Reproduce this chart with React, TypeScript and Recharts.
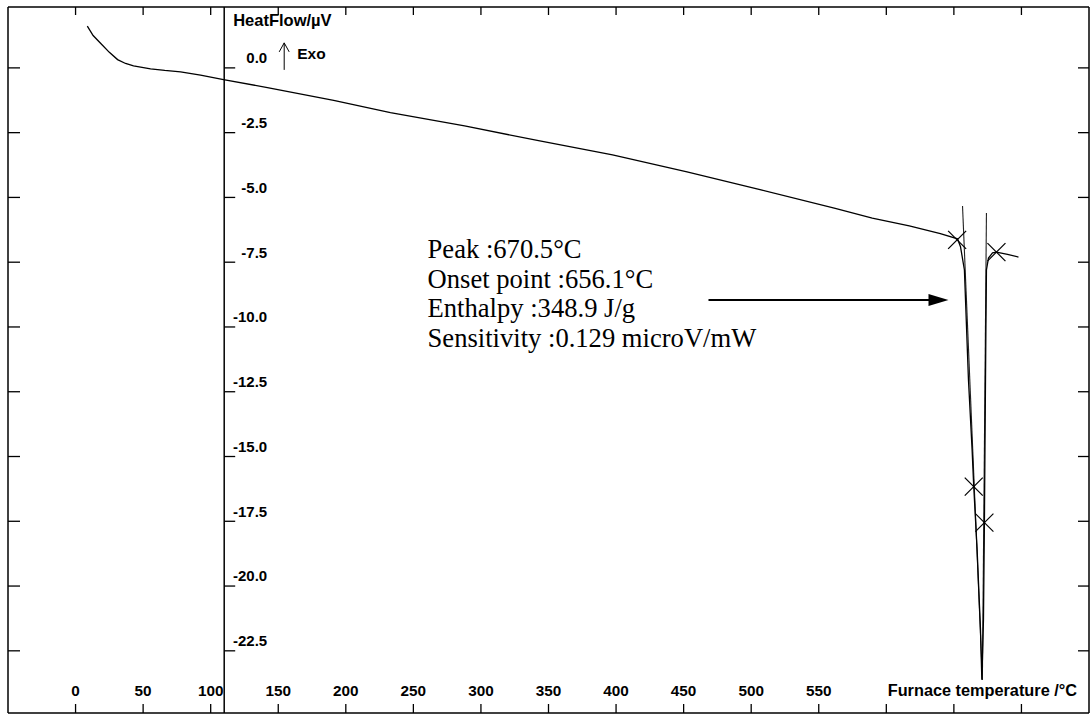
import React from 'react';
import { ComposedChart, Line, XAxis, YAxis, Scatter, ReferenceLine, ReferenceDot } from 'recharts';

// ---- data ----
const temperature = [
  8.7, 13, 18.5, 25, 31.1, 37, 42.9, 55.5, 66, 77.7, 92.5, 109.5, 142, 191, 233, 287.9, 342.6,
  397.4, 452.5, 507.3, 562.2, 589.6, 617, 640, 652.7, 654.9, 657.8, 660.8, 663.5, 664.7, 667.2,
  669.7, 670.7, 671.9, 672.6, 673.0, 673.7, 674.1, 675.6, 678.6, 681.5, 689.7, 697.8,
];
const heatFlow = [
  1.61, 1.25, 0.95, 0.6, 0.32, 0.17, 0.08, -0.04, -0.1, -0.15, -0.28, -0.45, -0.76, -1.25, -1.73,
  -2.24, -2.81, -3.36, -4.01, -4.71, -5.42, -5.8, -6.1, -6.4, -6.6, -6.9, -7.8, -12.05, -14.75,
  -16.16, -18.6, -21.69, -23.62, -21.3, -17.55, -14.75, -10.1, -7.8, -7.34, -7.14, -7.11, -7.2, -7.3,
];
const leftTangentT = [656.4, 671.1];
const leftTangentV = [-5.33, -23.62];
const rightTangentT = [674.1, 671.1];
const rightTangentV = [-5.6, -23.62];
const markerT = [652.4, 681.5, 664.7, 672.6];
const markerV = [-6.64, -7.11, -16.16, -17.55];

const xTicks = [0, 50, 100, 150, 200, 250, 300, 350, 400, 450, 500, 550, 600, 650, 700];
const xTickLabels = ['0', '50', '100', '150', '200', '250', '300', '350', '400', '450', '500', '550', '', '', ''];
const yTicks = [0, -2.5, -5, -7.5, -10, -12.5, -15, -17.5, -20, -22.5];
const yTickLabels = ['0.0', '-2.5', '-5.0', '-7.5', '-10.0', '-12.5', '-15.0', '-17.5', '-20.0', '-22.5'];
const yAxisPosition = 110;
const xDomain = [-50, 750];
const yDomain = [-24.9, 2.35];
const xAxisTitle = 'Furnace temperature /°C';
const yAxisTitle = 'HeatFlow/µV';
const exoLabel = 'Exo';
const annotationLines = [
  'Peak :670.5°C',
  'Onset point :656.1°C',
  'Enthalpy :348.9 J/g',
  'Sensitivity :0.129 microV/mW',
];
const annotationAnchor = { t: 260.5, v: -7.34 };
const arrowFrom = { t: 468.4, v: -8.96 };
const arrowTo = { t: 646, v: -8.96 };

// ---- derived tables ----
const curve = temperature.map((t, i) => ({ t, v: heatFlow[i] }));
const leftTangent = leftTangentT.map((t, i) => ({ t, v: leftTangentV[i] }));
const rightTangent = rightTangentT.map((t, i) => ({ t, v: rightTangentV[i] }));
const markers = markerT.map((t, i) => ({ t, v: markerV[i] }));
const innerTicks = yTicks.map((v, i) => ({ t: yAxisPosition, v, label: yTickLabels[i] }));

const FONT = '"Liberation Sans", Arial, sans-serif';
const SERIF = '"Liberation Serif", "Times New Roman", serif';

const BottomTick = (p: any) => {
  const idx = xTicks.indexOf(p.payload.value);
  const label = idx >= 0 ? xTickLabels[idx] : '';
  return (
    <g>
      <line x1={p.x} x2={p.x} y1={p.y} y2={p.y - 9} stroke="#000" strokeWidth={1.3} />
      {label ? (
        <text x={p.x} y={p.y - 17.5} textAnchor="middle" fontFamily={FONT} fontWeight="bold" fontSize={15.3} fill="#000">
          {label}
        </text>
      ) : null}
    </g>
  );
};
const TopTick = (p: any) => (
  <line x1={p.x} x2={p.x} y1={p.y} y2={p.y + 8} stroke="#000" strokeWidth={1.3} />
);
const LeftTick = (p: any) => (
  <line x1={p.x} x2={p.x + 12} y1={p.y} y2={p.y} stroke="#000" strokeWidth={1.3} />
);
const RightTick = (p: any) => (
  <line x1={p.x} x2={p.x - 11} y1={p.y} y2={p.y} stroke="#000" strokeWidth={1.3} />
);

const InnerTick = (p: any) => (
  <g>
    <line x1={p.cx} x2={p.cx + 11} y1={p.cy} y2={p.cy} stroke="#000" strokeWidth={1.3} />
    <text x={p.cx + 43} y={p.cy - 4.6} textAnchor="end" fontFamily={FONT} fontWeight="bold" fontSize={15} fill="#000">
      {p.payload.label}
    </text>
  </g>
);

const Cross = (p: any) => (
  <g stroke="#000" strokeWidth={1.2}>
    <line x1={p.cx - 9} y1={p.cy - 9} x2={p.cx + 9} y2={p.cy + 9} />
    <line x1={p.cx - 9} y1={p.cy + 9} x2={p.cx + 9} y2={p.cy - 9} />
  </g>
);

const AxisHeader = (p: any) => (
  <g>
    <text x={p.cx + 9} y={p.cy - 41.5} fontFamily={FONT} fontWeight="bold" fontSize={16.5} fill="#000">
      {yAxisTitle}
    </text>
    <g stroke="#000" strokeWidth={1} fill="none">
      <line x1={p.cx + 60} x2={p.cx + 60} y1={p.cy + 2} y2={p.cy - 25} />
      <polyline points={`${p.cx + 55},${p.cy - 16} ${p.cx + 60},${p.cy - 25} ${p.cx + 65},${p.cy - 16}`} />
    </g>
    <text x={p.cx + 73} y={p.cy - 9} fontFamily={FONT} fontWeight="bold" fontSize={15.5} fill="#000">
      {exoLabel}
    </text>
  </g>
);

const Annotation = (p: any) => (
  <text x={p.cx} y={p.cy} fontFamily={SERIF} fontSize={26.6} fill="#000">
    {annotationLines.map((s, i) => (
      <tspan key={i} x={p.cx} dy={i === 0 ? 0 : 29.5}>
        {s}
      </tspan>
    ))}
  </text>
);

const ArrowShape = (p: any) => {
  const { x1, y1, x2, y2 } = p;
  return (
    <g>
      <line x1={x1} y1={y1} x2={x2 - 18} y2={y2} stroke="#000" strokeWidth={2} />
      <polygon points={`${x2},${y2} ${x2 - 20},${y2 - 6} ${x2 - 20},${y2 + 6}`} fill="#000" />
    </g>
  );
};

const axisLine = { stroke: '#000', strokeWidth: 1.5 };

export default function App() {
  return (
    <div style={{ position: 'absolute', left: 0, top: 0, background: '#fff' }}>
      <ComposedChart width={1092} height={715} margin={{ top: 6, left: 7, right: 2, bottom: 1 }}>
        <XAxis
          xAxisId="b"
          type="number"
          dataKey="t"
          domain={xDomain}
          ticks={xTicks}
          interval={0}
          allowDataOverflow
          orientation="bottom"
          height={1}
          tickSize={0}
          tickMargin={0}
          tickLine={false}
          axisLine={axisLine}
          tick={BottomTick}
        />
        <XAxis
          xAxisId="t"
          type="number"
          dataKey="t"
          domain={xDomain}
          ticks={xTicks}
          interval={0}
          allowDataOverflow
          orientation="top"
          height={1}
          tickSize={0}
          tickMargin={0}
          tickLine={false}
          axisLine={axisLine}
          tick={TopTick}
        />
        <YAxis
          yAxisId="l"
          type="number"
          dataKey="v"
          domain={yDomain}
          ticks={yTicks}
          interval={0}
          allowDataOverflow
          orientation="left"
          width={1}
          tickSize={0}
          tickMargin={0}
          tickLine={false}
          axisLine={axisLine}
          tick={LeftTick}
        />
        <YAxis
          yAxisId="r"
          type="number"
          dataKey="v"
          domain={yDomain}
          ticks={yTicks}
          interval={0}
          allowDataOverflow
          orientation="right"
          width={1}
          tickSize={0}
          tickMargin={0}
          tickLine={false}
          axisLine={axisLine}
          tick={RightTick}
        />
        <ReferenceLine xAxisId="b" yAxisId="l" x={yAxisPosition} stroke="#000" strokeWidth={1.5} />
        <Line
          xAxisId="b"
          yAxisId="l"
          data={leftTangent}
          dataKey="v"
          type="linear"
          stroke="#222"
          strokeWidth={1.1}
          dot={false}
          activeDot={false}
          isAnimationActive={false}
        />
        <Line
          xAxisId="b"
          yAxisId="l"
          data={rightTangent}
          dataKey="v"
          type="linear"
          stroke="#222"
          strokeWidth={1.1}
          dot={false}
          activeDot={false}
          isAnimationActive={false}
        />
        <Line
          xAxisId="b"
          yAxisId="l"
          data={curve}
          dataKey="v"
          type="linear"
          stroke="#000"
          strokeWidth={1.3}
          dot={false}
          activeDot={false}
          isAnimationActive={false}
        />
        <Scatter xAxisId="b" yAxisId="l" data={markers} dataKey="v" shape={Cross} isAnimationActive={false} />
        <Scatter xAxisId="b" yAxisId="l" data={innerTicks} dataKey="v" shape={InnerTick} isAnimationActive={false} />
        <ReferenceDot xAxisId="b" yAxisId="l" x={yAxisPosition} y={0} shape={AxisHeader} />
        <ReferenceDot xAxisId="b" yAxisId="l" x={annotationAnchor.t} y={annotationAnchor.v} shape={Annotation} />
        <ReferenceLine
          xAxisId="b"
          yAxisId="l"
          segment={[
            { x: arrowFrom.t, y: arrowFrom.v },
            { x: arrowTo.t, y: arrowTo.v },
          ]}
          shape={ArrowShape}
        />
        <text
          x={1077}
          y={695.5}
          textAnchor="end"
          fontFamily={FONT}
          fontWeight="bold"
          fontSize={16.3}
          fill="#000"
        >
          {xAxisTitle}
        </text>
      </ComposedChart>
    </div>
  );
}
